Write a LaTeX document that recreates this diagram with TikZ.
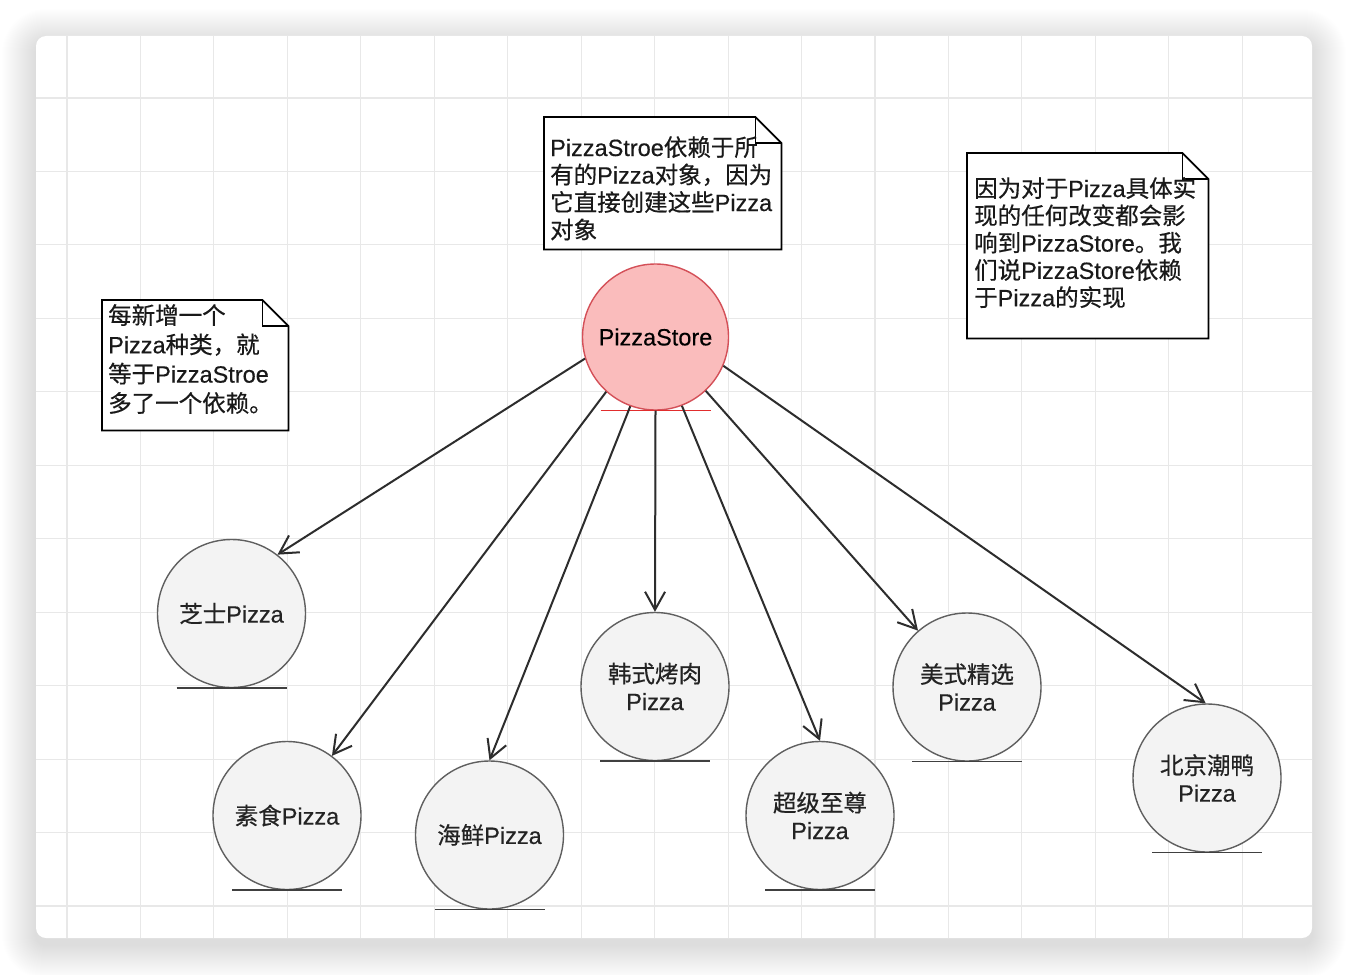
\documentclass[tikz,border=0pt]{standalone}
\usepackage{fontspec}
\setmainfont{Liberation Sans}[FakeBold=0.4]
\newfontfamily\cjk{Noto Sans CJK SC}[FakeBold=0.5]
\usetikzlibrary{arrows.meta}
\newcommand\zh[1]{{\cjk #1}}
\newcommand\mlines[2]{\vtop{\baselineskip=#1pt\lineskiplimit=-100pt\lineskip=0pt #2}}
\definecolor{gridc}{RGB}{232,232,232}
\definecolor{circfill}{RGB}{243,243,243}
\definecolor{circstroke}{RGB}{95,95,95}
\definecolor{psfill}{RGB}{250,188,188}
\definecolor{psstroke}{RGB}{212,80,88}
\definecolor{psline}{RGB}{225,45,45}
\definecolor{edgec}{RGB}{45,45,45}
\definecolor{txt}{RGB}{35,35,35}
\tikzset{
  ent/.style={circle, draw=circstroke, fill=circfill, line width=1.4pt, minimum size=148pt, inner sep=0pt, align=center, text=txt, font=\fontsize{23.5}{27.5}\selectfont},
  psent/.style={ent, draw=psstroke, fill=psfill, minimum size=146pt, text=black},
  baseline line/.style={line width=1.5pt, draw=black!75},
  edge/.style={draw=edgec, line width=2pt, -{Straight Barb[length=18pt,width=20pt]}},
  notebox/.style={draw=none, inner sep=0pt, anchor=north west},
  noteline/.style={draw=black, line width=1.7pt, line join=miter},
  notetext/.style={anchor=base west, inner sep=0pt, text=black!90, font=\fontsize{23.5}{27.5}\selectfont}
}
\begin{document}
\begin{tikzpicture}[x=1pt,y=-1pt]
\useasboundingbox (0,0) rectangle (1348,974);
\fill[white] (0,0) rectangle (1348,974);
% card shadow
\foreach \i [evaluate=\i as \r using 10+\i] in {1,...,34}
  \fill[black, opacity=0.0055, rounded corners=\r pt] (36-\i,43-\i) rectangle (1312+\i,945+\i);
% card
\fill[white, rounded corners=10pt] (36,36) rectangle (1312,938);
\begin{scope}
  \clip[rounded corners=10pt] (36,36) rectangle (1312,938);
  \foreach \k in {0,...,16} \draw[gridc, line width=1.1pt] ({67+73.45*\k},36) -- ({67+73.45*\k},938);
  \foreach \k in {0,...,11} \draw[gridc, line width=1.1pt] (36,{98+73.45*\k}) -- (1312,{98+73.45*\k});
\end{scope}

% entities
\node[psent] (ps) at (655.5,337) {PizzaStore};
\node[ent] (c1) at (231.5,613.5) {\zh{芝士}Pizza};
\node[ent] (c2) at (287,815.5) {\zh{素食}Pizza};
\node[ent] (c3) at (489.5,835) {\zh{海鲜}Pizza};
\node[ent] (c4) at (655,686.5) {\zh{韩式烤肉}\\Pizza};
\node[ent] (c5) at (820,815.5) {\zh{超级至尊}\\Pizza};
\node[ent] (c6) at (967,687) {\zh{美式精选}\\Pizza};
\node[ent] (c7) at (1207,778) {\zh{北京潮鸭}\\Pizza};

% entity base lines
\draw[line width=1.5pt, draw=psline] ([xshift=-55pt]ps.south) -- ([xshift=55pt]ps.south);
\foreach \n in {c1,c2,c3,c4,c5,c6,c7}
  \draw[baseline line] ([xshift=-55pt]\n.south) -- ([xshift=55pt]\n.south);

% edges
\draw[edge] (ps.197) -- (c1.52);
\draw[edge] (ps.228) -- (c2.53);
\draw[edge] (ps.250) -- (c3.90);
\draw[edge] (ps.270) -- (c4.90);
\draw[edge] (ps.291) -- (c5.90);
\draw[edge] (ps.313) -- (c6.131);
\draw[edge] (ps.337) -- (c7.91);

% note 1
\node[notebox, minimum width=237pt, minimum height=132pt] (n1) at (544,117) {};
\draw[noteline, fill=white] (n1.north west) -- ([xshift=-26pt]n1.north east) -- ([yshift=-26pt]n1.north east) -- (n1.south east) -- (n1.south west) -- cycle;
\draw[noteline] ([xshift=-26pt]n1.north east) -- ([xshift=-26pt,yshift=-26pt]n1.north east) -- ([yshift=-26pt]n1.north east);
\node[notetext] (n1t) at (550,156) {\mlines{27.5}{%
  \hbox{PizzaStroe\zh{依赖于所}}%
  \hbox{\zh{有的}Pizza\zh{对象，因为}}%
  \hbox{\zh{它直接创建这些}Pizza}%
  \hbox{\zh{对象}}}};

% note 2
\node[notebox, minimum width=241pt, minimum height=185pt] (n2) at (967,153) {};
\draw[noteline, fill=white] (n2.north west) -- ([xshift=-26pt]n2.north east) -- ([yshift=-26pt]n2.north east) -- (n2.south east) -- (n2.south west) -- cycle;
\draw[noteline] ([xshift=-26pt]n2.north east) -- ([xshift=-26pt,yshift=-26pt]n2.north east) -- ([yshift=-26pt]n2.north east);
\node[notetext] (n2t) at (974,197) {\mlines{27.3}{%
  \hbox{\zh{因为对于}Pizza\zh{具体实}}%
  \hbox{\zh{现的任何改变都会影}}%
  \hbox{\zh{响到}PizzaStore\zh{。我}}%
  \hbox{\zh{们说}PizzaStore\zh{依赖}}%
  \hbox{\zh{于}Pizza\zh{的实现}}}};

% note 3
\node[notebox, minimum width=186pt, minimum height=130pt] (n3) at (102,300) {};
\draw[noteline, fill=white] (n3.north west) -- ([xshift=-26pt]n3.north east) -- ([yshift=-26pt]n3.north east) -- (n3.south east) -- (n3.south west) -- cycle;
\draw[noteline] ([xshift=-26pt]n3.north east) -- ([xshift=-26pt,yshift=-26pt]n3.north east) -- ([yshift=-26pt]n3.north east);
\node[notetext] (n3t) at (108,324) {\mlines{29.3}{%
  \hbox{\zh{每新增一个}}%
  \hbox{Pizza\zh{种类，就}}%
  \hbox{\zh{等于}PizzaStroe}%
  \hbox{\zh{多了一个依赖。}}}};
\end{tikzpicture}
\end{document}
